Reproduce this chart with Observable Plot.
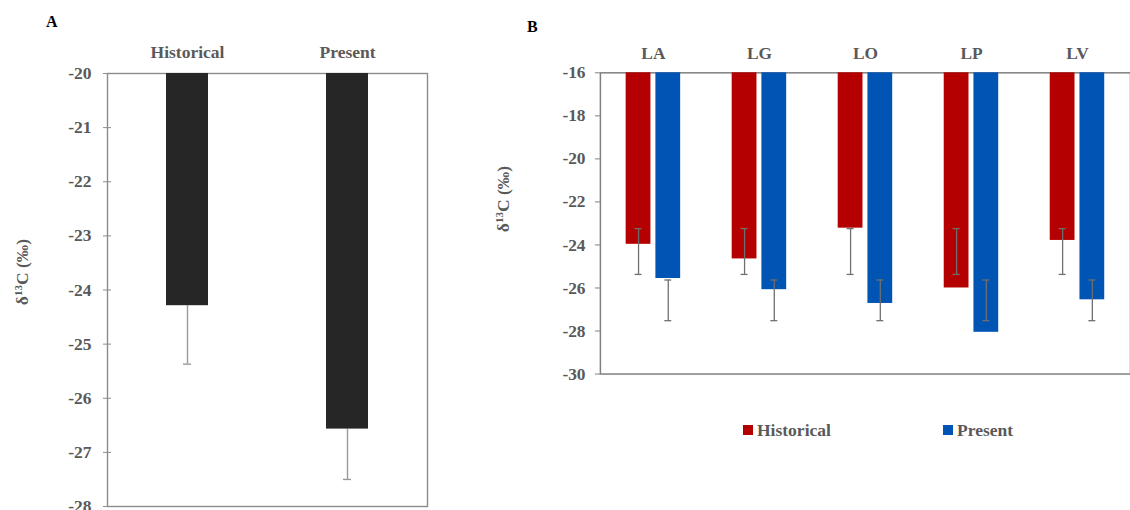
<!DOCTYPE html>
<html>
<head>
<meta charset="utf-8">
<script src="https://cdn.jsdelivr.net/npm/d3@7"></script>
<script src="https://cdn.jsdelivr.net/npm/@observablehq/plot@0.6"></script>
<style>
  html, body { margin: 0; padding: 0; background: #fff; }
  body { width: 1130px; height: 510px; overflow: hidden; position: relative; font-family: "Liberation Serif", "Times New Roman", serif; font-weight: bold; }
  .abs { position: absolute; }
  .panel { position: absolute; font-size: 16px; color: #000; line-height: 16px; }
  .ylab { position: absolute; font-size: 17.5px; color: #595959; white-space: nowrap; transform: translate(-50%, -50%) rotate(-90deg); line-height: 18px; }
  .ylab sup { font-size: 11px; vertical-align: 6px; line-height: 0; }
  .leg { position: absolute; font-size: 17.5px; color: #595959; line-height: 18px; white-space: nowrap; }
  .sw { position: absolute; width: 10px; height: 10px; }
</style>
</head>
<body>
<div id="chartA" class="abs" style="left:0;top:0"></div>
<div id="chartB" class="abs" style="left:480px;top:0"></div>
<div class="panel" style="left:46px;top:14px">A</div>
<div class="panel" style="left:527px;top:19px">B</div>
<div class="ylab" style="left:22px;top:272px">δ<sup>13</sup>C (‰)</div>
<div class="ylab" style="left:503px;top:199px">δ<sup>13</sup>C (‰)</div>
<div id="legend"></div>
<script>
// ---- Panel A data ----
const categoriesA = ["Historical", "Present"];
const meansA = [-24.29, -26.57];
const errLowA = [-25.37, -27.5];
const yTicksA = [-20, -21, -22, -23, -24, -25, -26, -27, -28];
const baselineA = -20;

// ---- Panel B data ----
const sites = ["LA", "LG", "LO", "LP", "LV"];
const series = ["Historical", "Present"];
const historical = [-23.97, -24.65, -23.22, -26.0, -23.79];
const present = [-25.56, -26.08, -26.72, -28.06, -26.55];
const histErrHigh = [-23.24, -23.24, -23.24, -23.24, -23.24];
const histErrLow = [-25.37, -25.37, -25.37, -25.37, -25.37];
const presErrHigh = [-25.63, -25.63, -25.63, -25.63, -25.63];
const presErrLow = [-27.52, -27.52, -27.52, -27.52, -27.52];
const yTicksB = [-16, -18, -20, -22, -24, -26, -28, -30];
const baselineB = -16;
const colors = ["#b40000", "#0054b4"];

const dataA = categoriesA.map((c, i) => ({cat: c, mean: meansA[i], low: errLowA[i]}));
const histData = sites.map((s, i) => ({site: s, v: historical[i], hi: histErrHigh[i], lo: histErrLow[i]}));
const presData = sites.map((s, i) => ({site: s, v: present[i], hi: presErrHigh[i], lo: presErrLow[i]}));

const baseStyle = {
  fontFamily: '"Liberation Serif", "Times New Roman", serif',
  fontSize: "17.5px",
  fontWeight: "bold",
  color: "#595959",
  background: "transparent",
  overflow: "visible"
};

const chartA = Plot.plot({
  width: 440, height: 510,
  marginLeft: 107, marginRight: 13, marginTop: 73, marginBottom: 4,
  style: baseStyle,
  x: {domain: categoriesA, padding: 0},
  y: {domain: [-28, -20]},
  marks: [
    Plot.frame({stroke: "#8c8c8c", strokeWidth: 1.4}),
    Plot.ruleX(dataA, {x: "cat", y1: "mean", y2: "low", stroke: "#9a9a9a", strokeWidth: 1.4}),
    Plot.tickY(dataA, {x: "cat", y: "low", stroke: "#9a9a9a", strokeWidth: 1.4, insetLeft: 76, insetRight: 76}),
    Plot.barY(dataA, {x: "cat", y1: () => baselineA, y2: "mean", fill: "#262626", insetLeft: 59, insetRight: 59}),
    Plot.axisY({ticks: yTicksA, tickSize: 8, dx: 4, tickPadding: 12, tickFormat: d => String(d), stroke: "#8c8c8c", fill: "#595959", label: null}),
    Plot.axisX({anchor: "top", tickSize: 0, tickPadding: 16, label: null, fill: "#595959"})
  ]
});
document.getElementById("chartA").append(chartA);

const chartB = Plot.plot({
  width: 656, height: 400,
  marginLeft: 121, marginRight: 0, marginTop: 73, marginBottom: 23,
  style: baseStyle,
  x: {domain: sites, padding: 0},
  y: {domain: [-30, -16]},
  marks: [
    Plot.frame({stroke: "#7f7f7f", strokeWidth: 1.5}),
    Plot.barY(histData, {x: "site", y1: () => baselineB, y2: "v", fill: colors[0], insetLeft: 41, insetRight: 41, dx: -15}),
    Plot.barY(presData, {x: "site", y1: () => baselineB, y2: "v", fill: colors[1], insetLeft: 41, insetRight: 41, dx: 15}),
    Plot.ruleX(histData, {x: "site", y1: "hi", y2: "lo", stroke: "#6f6f6f", strokeWidth: 1.3, dx: -15}),
    Plot.tickY(histData, {x: "site", y: "hi", stroke: "#6f6f6f", strokeWidth: 1.3, dx: -15, insetLeft: 50, insetRight: 50}),
    Plot.tickY(histData, {x: "site", y: "lo", stroke: "#6f6f6f", strokeWidth: 1.3, dx: -15, insetLeft: 50, insetRight: 50}),
    Plot.ruleX(presData, {x: "site", y1: "hi", y2: "lo", stroke: "#6f6f6f", strokeWidth: 1.3, dx: 15}),
    Plot.tickY(presData, {x: "site", y: "hi", stroke: "#6f6f6f", strokeWidth: 1.3, dx: 15, insetLeft: 50, insetRight: 50}),
    Plot.tickY(presData, {x: "site", y: "lo", stroke: "#6f6f6f", strokeWidth: 1.3, dx: 15, insetLeft: 50, insetRight: 50}),
    Plot.axisY({ticks: yTicksB, tickSize: 5, tickPadding: 10, tickFormat: d => String(d), stroke: "#7f7f7f", fill: "#595959", label: null}),
    Plot.axisX({anchor: "top", tickSize: 0, tickPadding: 14, label: null, fill: "#595959"})
  ]
});
document.getElementById("chartB").append(chartB);

// Legend
const legend = document.getElementById("legend");
const legX = [743, 943];
series.forEach((s, i) => {
  const sw = document.createElement("div");
  sw.className = "sw";
  sw.style.left = legX[i] + "px";
  sw.style.top = "425px";
  sw.style.background = colors[i];
  legend.append(sw);
  const t = document.createElement("div");
  t.className = "leg";
  t.style.left = (legX[i] + 14) + "px";
  t.style.top = "421px";
  t.textContent = s;
  legend.append(t);
});
</script>
</body>
</html>
